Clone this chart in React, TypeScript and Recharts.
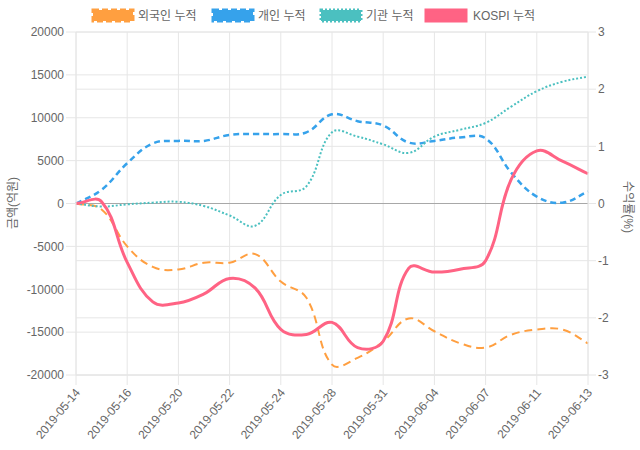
import React from 'react';
import { LineChart, Line, XAxis, YAxis, CartesianGrid, ReferenceLine } from 'recharts';

const dates = ['2019-05-14','2019-05-15','2019-05-16','2019-05-17','2019-05-20','2019-05-21','2019-05-22','2019-05-23','2019-05-24','2019-05-27','2019-05-28','2019-05-29','2019-05-31','2019-06-03','2019-06-04','2019-06-05','2019-06-07','2019-06-10','2019-06-11','2019-06-12','2019-06-13'];
const foreign = [0,-700,-5000,-7400,-7700,-6900,-6900,-5900,-9100,-11000,-18800,-18000,-16100,-13400,-14900,-16300,-16800,-15300,-14700,-14700,-16300];
const individual = [0,1600,4700,7000,7300,7300,8000,8100,8100,8300,10400,9600,9100,7100,7300,7700,7600,3600,800,100,1400];
const institutional = [0,-350,-100,100,200,-300,-1400,-2600,1000,2000,8300,7800,6900,5900,7800,8600,9400,11300,13100,14200,14800];
const kospi = [0,0.03,-1.03,-1.72,-1.74,-1.58,-1.31,-1.48,-2.2,-2.29,-2.08,-2.52,-2.41,-1.13,-1.2,-1.15,-1.0,0.42,0.92,0.74,0.52];
const leftTicks = [-20000,-15000,-10000,-5000,0,5000,10000,15000,20000];
const rightTicks = [-3,-2,-1,0,1,2,3];

const seriesNames = ['외국인 누적','개인 누적','기관 누적','KOSPI 누적'];
const colors = ['rgb(255,159,64)','rgb(54,162,235)','rgb(75,192,192)','rgb(255,99,132)'];

const data = dates.map((d, i) => ({
  date: d,
  foreign: foreign[i],
  individual: individual[i],
  institutional: institutional[i],
  kospi: kospi[i],
}));

const FONT = "'Liberation Sans', Arial, 'Noto Sans CJK KR', sans-serif";
const GRID = '#e6e6e6';

// Chart.js-style cardinal spline (tension 0.4)
const chartjsCurve: any = (context: any) => {
  let xs: number[] = [];
  let ys: number[] = [];
  return {
    areaStart() {},
    areaEnd() {},
    lineStart() { xs = []; ys = []; },
    point(x: number, y: number) { xs.push(+x); ys.push(+y); },
    lineEnd() {
      const n = xs.length;
      if (!n) return;
      const t = 0.4;
      const pcx: number[] = [], pcy: number[] = [], ncx: number[] = [], ncy: number[] = [];
      for (let i = 0; i < n; i++) {
        const p = i > 0 ? i - 1 : i;
        const q = i < n - 1 ? i + 1 : i;
        const d01 = Math.hypot(xs[i] - xs[p], ys[i] - ys[p]);
        const d12 = Math.hypot(xs[q] - xs[i], ys[q] - ys[i]);
        let s01 = d01 / (d01 + d12);
        let s12 = d12 / (d01 + d12);
        if (!isFinite(s01)) s01 = 0;
        if (!isFinite(s12)) s12 = 0;
        const fa = t * s01, fb = t * s12;
        pcx[i] = xs[i] - fa * (xs[q] - xs[p]);
        pcy[i] = ys[i] - fa * (ys[q] - ys[p]);
        ncx[i] = xs[i] + fb * (xs[q] - xs[p]);
        ncy[i] = ys[i] + fb * (ys[q] - ys[p]);
      }
      context.moveTo(xs[0], ys[0]);
      for (let i = 1; i < n; i++) {
        context.bezierCurveTo(ncx[i - 1], ncy[i - 1], pcx[i], pcy[i], xs[i], ys[i]);
      }
    },
  };
};

const legendLayout = [
  { box: 92, text: 138, dash: '6 3' },
  { box: 212, text: 258, dash: '6 3' },
  { box: 320, text: 366, dash: '2 2' },
  { box: 425, text: 473, dash: '' },
];

const XTick = (props: any) => {
  const { x, y, payload } = props;
  return (
    <g transform={`translate(${x - 2},${y})`}>
      <text x={0} y={0} dy={9} textAnchor="end" fill="#666" fontSize={12} fontFamily={FONT} transform="rotate(-50)">
        {payload.value}
      </text>
    </g>
  );
};

export default function App() {
  return (
    <div style={{ position: 'absolute', left: 0, top: 0, width: 640, height: 450, background: '#fff' }}>
      <svg width={640} height={30} style={{ position: 'absolute', left: 0, top: 0 }}>
        {legendLayout.map((l, i) => (
          <g key={i}>
            <rect x={l.box + 1} y={10} width={40} height={11} fill={colors[i]} stroke={colors[i]} strokeWidth={3} strokeDasharray={l.dash || undefined} />
            <text x={l.text} y={20} fontSize={12} fill="#666" fontFamily={FONT}>{seriesNames[i]}</text>
          </g>
        ))}
      </svg>
      <LineChart width={640} height={450} data={data} margin={{ top: 32, right: 0, bottom: 0, left: 0 }} style={{ fontFamily: FONT }}>
        <CartesianGrid yAxisId="left" stroke={GRID} vertical={true} horizontal={true} />
        <CartesianGrid yAxisId="right" stroke={GRID} vertical={false} horizontal={true} />
        <XAxis dataKey="date" interval={1} height={75} tick={<XTick />} tickSize={10} tickLine={{ stroke: GRID }} axisLine={{ stroke: GRID }} />
        <YAxis yAxisId="left" orientation="left" width={76} domain={[-20000, 20000]} ticks={leftTicks} tickSize={10} tickMargin={2} tickLine={{ stroke: GRID }} axisLine={{ stroke: GRID }} tick={{ fill: '#666', fontSize: 12, fontFamily: FONT }}
          label={{ content: () => <text x={14} y={203} transform="rotate(-90, 14, 203)" textAnchor="middle" dominantBaseline="middle" fill="#666" fontSize={12} fontFamily={FONT}>금액(억원)</text> }} />
        <YAxis yAxisId="right" orientation="right" width={52} domain={[-3, 3]} ticks={rightTicks} tickSize={8} tickMargin={2} tickLine={{ stroke: GRID }} axisLine={{ stroke: GRID }} tick={{ fill: '#666', fontSize: 12, fontFamily: FONT }}
          label={{ content: () => <text x={627} y={207} transform="rotate(90, 627, 207)" textAnchor="middle" dominantBaseline="middle" fill="#666" fontSize={12} fontFamily={FONT}>수익률(%)</text> }} />
        <ReferenceLine yAxisId="left" y={0} stroke="#a8a8a8" strokeWidth={1} />
        <Line yAxisId="left" type={chartjsCurve} dataKey="foreign" stroke={colors[0]} strokeWidth={2} strokeDasharray="8 5" dot={false} isAnimationActive={false} />
        <Line yAxisId="left" type={chartjsCurve} dataKey="individual" stroke={colors[1]} strokeWidth={2.5} strokeDasharray="6 4" dot={false} isAnimationActive={false} />
        <Line yAxisId="left" type={chartjsCurve} dataKey="institutional" stroke={colors[2]} strokeWidth={2} strokeDasharray="2 2" dot={false} isAnimationActive={false} />
        <Line yAxisId="right" type={chartjsCurve} dataKey="kospi" stroke={colors[3]} strokeWidth={3} dot={false} isAnimationActive={false} />
      </LineChart>
    </div>
  );
}
